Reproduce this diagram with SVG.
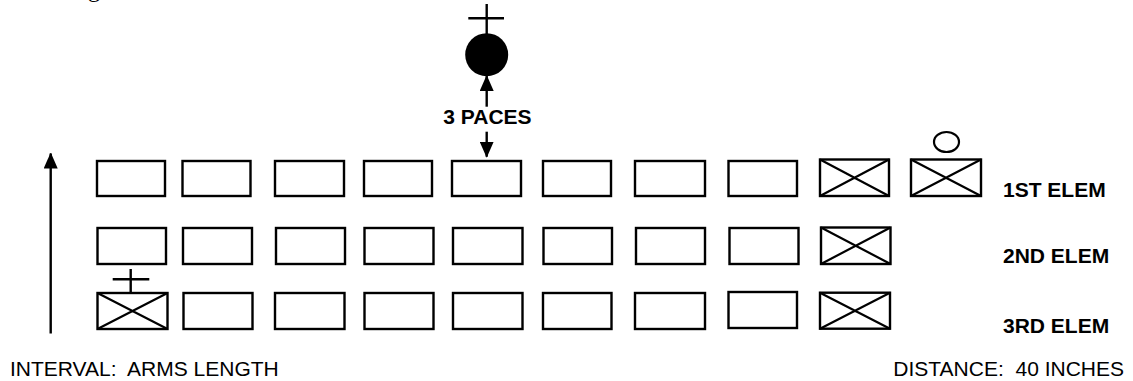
<svg xmlns="http://www.w3.org/2000/svg" width="1133" height="381" viewBox="0 0 1133 381">
<style>
.box{fill:#fff;stroke:#000;stroke-width:2.4}
.x{stroke:#000;stroke-width:2.2;fill:none}
.ln{stroke:#000;stroke-width:2.4;fill:none}
.lbl{font-family:"Liberation Sans",Arial,sans-serif;font-size:21px;font-weight:bold;fill:#000}
.cap{font-family:"Liberation Sans",Arial,sans-serif;font-size:21px;fill:#000}
</style>
<defs>
<marker id="ah" markerUnits="userSpaceOnUse" markerWidth="16" markerHeight="14" viewBox="0 0 16 14" refX="15" refY="7" orient="auto">
<path d="M0,0 L16,7 L0,14 Z" fill="#000"/>
</marker>
</defs>
<text x="88" y="-3" style="font-family:'Liberation Serif',serif;font-size:24px">g</text>

<g id="leader">
<line class="ln" x1="486.7" y1="4" x2="486.7" y2="34"/>
<line class="ln" x1="468.3" y1="18.3" x2="504" y2="18.3"/>
<circle cx="486.7" cy="54.7" r="21.5" fill="#000"/>
</g>

<g id="connectors">
<line class="ln" x1="50.7" y1="333.5" x2="50.7" y2="153.5" marker-end="url(#ah)"/>
<line class="ln" x1="486.7" y1="106.7" x2="486.7" y2="76" marker-end="url(#ah)"/>
<line class="ln" x1="486.7" y1="131.7" x2="486.7" y2="156.7" marker-end="url(#ah)"/>
</g>
<text class="lbl" x="443.3" y="124">3 PACES</text>

<g id="row1">
<rect id="r1c1" class="box" x="97" y="161" width="68" height="35"/>
<rect id="r1c2" class="box" x="182.5" y="161" width="68" height="35"/>
<rect id="r1c3" class="box" x="275" y="161" width="69" height="35"/>
<rect id="r1c4" class="box" x="364" y="161" width="68" height="35"/>
<rect id="r1c5" class="box" x="452" y="161" width="69" height="35"/>
<rect id="r1c6" class="box" x="543" y="161" width="68" height="35"/>
<rect id="r1c7" class="box" x="635" y="161" width="70" height="35"/>
<rect id="r1c8" class="box" x="728.5" y="161" width="68.5" height="35"/>
<g id="r1c9"><rect class="box" x="820" y="159.5" width="69" height="36.5"/><path class="x" d="M820,159.5 L889,196 M820,196 L889,159.5"/></g>
<g id="r1c10"><ellipse class="x" cx="946.5" cy="142" rx="12.5" ry="10"/><rect class="box" x="911" y="159.5" width="70" height="36.5"/><path class="x" d="M911,159.5 L981,196 M911,196 L981,159.5"/></g>
</g>

<g id="row2">
<rect id="r2c1" class="box" x="97.5" y="228" width="68.5" height="36"/>
<rect id="r2c2" class="box" x="183" y="228" width="69" height="36"/>
<rect id="r2c3" class="box" x="276" y="228" width="69" height="36"/>
<rect id="r2c4" class="box" x="364.5" y="228" width="69" height="36"/>
<rect id="r2c5" class="box" x="453" y="228" width="69.5" height="36"/>
<rect id="r2c6" class="box" x="543.5" y="228" width="68.5" height="36"/>
<rect id="r2c7" class="box" x="636" y="228" width="69" height="36"/>
<rect id="r2c8" class="box" x="729.5" y="228" width="69" height="36"/>
<g id="r2c9"><rect class="box" x="821" y="227.5" width="69.5" height="36.5"/><path class="x" d="M821,227.5 L890.5,264 M821,264 L890.5,227.5"/></g>
</g>

<g id="row3">
<g id="r3c1"><line class="ln" x1="130.7" y1="269" x2="130.7" y2="294"/><line class="ln" x1="112.7" y1="279.3" x2="149.3" y2="279.3"/><rect class="box" x="97.5" y="293" width="70" height="36" fill="none"/><path class="x" d="M97.5,293 L167.5,329 M97.5,329 L167.5,293"/></g>
<rect id="r3c2" class="box" x="183.5" y="293" width="69" height="36"/>
<rect id="r3c3" class="box" x="275" y="293" width="69.5" height="36"/>
<rect id="r3c4" class="box" x="364.5" y="293" width="69" height="36"/>
<rect id="r3c5" class="box" x="453" y="293" width="69.5" height="36"/>
<rect id="r3c6" class="box" x="543" y="293" width="68.5" height="36"/>
<rect id="r3c7" class="box" x="635" y="293" width="70" height="36"/>
<rect id="r3c8" class="box" x="728.5" y="292" width="68.5" height="36"/>
<g id="r3c9"><rect class="box" x="820" y="292.7" width="70" height="36"/><path class="x" d="M820,292.7 L890,328.7 M820,328.7 L890,292.7"/></g>
</g>

<g id="labels">
<text class="lbl" x="1003" y="197">1ST ELEM</text>
<text class="lbl" x="1003" y="263">2ND ELEM</text>
<text class="lbl" x="1003" y="333">3RD ELEM</text>
<text class="cap" x="10" y="376" xml:space="preserve">INTERVAL:  ARMS LENGTH</text>
<text class="cap" x="1124" y="376" text-anchor="end" xml:space="preserve">DISTANCE:  40 INCHES</text>
</g>
</svg>
